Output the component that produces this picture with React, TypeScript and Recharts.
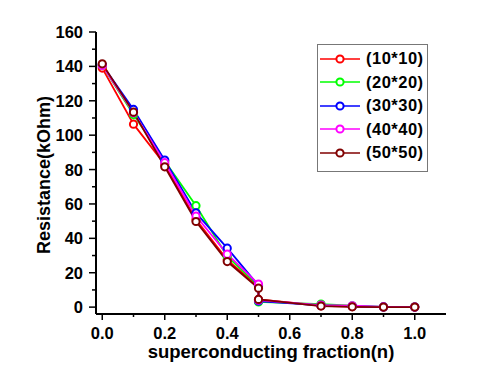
import React from "react"
import { LineChart, Line, XAxis, YAxis, Legend } from "recharts"

// superconducting fraction values (0.5 appears twice: the curves drop at that point)
const fractions = [0, 0.1, 0.2, 0.3, 0.4, 0.5, 0.5, 0.7, 0.8, 0.9, 1.0]

const r10 = [139, 106.4, 83, 51, 27.5, 12, 4.5, 0.8, 0.3, 0, 0]
const r20 = [140.5, 112, 85, 59, 29.5, 12.5, 3, 1.8, 0.8, 0.1, 0]
const r30 = [141, 115, 85.5, 54.8, 34.3, 12.5, 3.5, 1, 0.5, 0.1, 0]
const r40 = [140.5, 113, 84, 53, 30.8, 13.4, 4, 1.2, 0.8, 0.1, 0]
const r50 = [141.5, 113.4, 81.6, 49.8, 26.5, 11, 4.5, 0.6, 0.2, 0, 0]

const seriesNames = ["(10*10)", "(20*20)", "(30*30)", "(40*40)", "(50*50)"]
const seriesValues = [r10, r20, r30, r40, r50]
const colors = ["#ff0000", "#00ff00", "#0000ff", "#ff00ff", "#800000"]

const xMajor = [0, 0.2, 0.4, 0.6, 0.8, 1.0]
const xMinor = [0.1, 0.3, 0.5, 0.7, 0.9]
const yMajor = [0, 20, 40, 60, 80, 100, 120, 140, 160]
const yMinor = [10, 30, 50, 70, 90, 110, 130, 150]

const data = fractions.map((f, i) => {
  const row: any = { n: f }
  seriesNames.forEach((name, s) => {
    row[name] = seriesValues[s][i]
  })
  return row
})

const font = "'Liberation Sans', Arial, Helvetica, sans-serif"

function XTick(props: any) {
  const { x, y, payload } = props
  const major = xMajor.includes(payload.value)
  return (
    <g>
      <line x1={x} y1={y} x2={x} y2={y + (major ? 6 : 3)} stroke="#000" strokeWidth={1.5} />
      {major && (
        <text x={x} y={y + 25} textAnchor="middle" fontSize={16.5} fontWeight="bold" fontFamily={font} fill="#000">
          {payload.value.toFixed(1)}
        </text>
      )}
    </g>
  )
}

function YTick(props: any) {
  const { x, y, payload } = props
  const major = yMajor.includes(payload.value)
  return (
    <g>
      <line x1={x - (major ? 7 : 4)} y1={y} x2={x} y2={y} stroke="#000" strokeWidth={1.5} />
      {major && (
        <text x={x - 13} y={y + 6} textAnchor="end" fontSize={16.5} fontWeight="bold" fontFamily={font} fill="#000">
          {payload.value}
        </text>
      )}
    </g>
  )
}

function LegendBox() {
  return (
    <div
      style={{
        border: "1px solid #777",
        background: "#fff",
        width: 111,
        height: 128,
        boxSizing: "border-box",
        paddingTop: 2,
      }}
    >
      {seriesNames.map((name, i) => (
        <div key={name} style={{ display: "flex", alignItems: "center", height: 23.5 }}>
          <svg width={44} height={12} style={{ marginLeft: 2 }}>
            <line x1={0} y1={6} x2={40} y2={6} stroke={colors[i]} strokeWidth={1.5} />
            <circle cx={20} cy={6} r={3.6} stroke={colors[i]} strokeWidth={2} fill="#fff" />
          </svg>
          <span
            style={{
              fontFamily: font,
              fontWeight: "bold",
              fontSize: 16.5,
              letterSpacing: 0.5,
              color: "#000",
              marginLeft: 2,
              whiteSpace: "nowrap",
            }}
          >
            {name}
          </span>
        </div>
      ))}
    </div>
  )
}

export default function App() {
  return (
    <div style={{ position: "absolute", left: 0, top: 0, width: 500, height: 375, background: "#fff" }}>
      <LineChart width={500} height={375} data={data} margin={{ top: 32, right: 54, bottom: 0, left: 0 }}>
        <XAxis
          dataKey="n"
          type="number"
          domain={[-0.02, 1.1]}
          ticks={[...xMajor, ...xMinor].sort((a, b) => a - b)}
          interval={0}
          tick={<XTick />}
          tickLine={false}
          tickSize={0}
          tickMargin={0}
          height={61}
          axisLine={{ stroke: "#000", strokeWidth: 2 }}
          allowDataOverflow
        />
        <XAxis xAxisId="top" orientation="top" type="number" domain={[-0.02, 1.1]} tick={false} height={0} axisLine={{ stroke: "#000", strokeWidth: 2 }} />
        <YAxis
          type="number"
          domain={[-4, 160]}
          ticks={[...yMajor, ...yMinor].sort((a, b) => a - b)}
          interval={0}
          tick={<YTick />}
          tickLine={false}
          tickSize={0}
          tickMargin={0}
          width={96}
          axisLine={{ stroke: "#000", strokeWidth: 2 }}
          allowDataOverflow
        />
        <YAxis yAxisId="right" orientation="right" type="number" domain={[-4, 160]} tick={false} width={0} axisLine={{ stroke: "#000", strokeWidth: 2 }} />
        <Legend
          layout="vertical"
          align="center"
          verticalAlign="middle"
          content={<LegendBox />}
          wrapperStyle={{ position: "absolute", left: 317, top: 44, width: "auto" }}
        />
        {seriesNames.map((name, i) => (
          <Line
            key={name}
            dataKey={name}
            stroke={colors[i]}
            strokeWidth={1.8}
            dot={{ r: 3.6, stroke: colors[i], strokeWidth: 2, fill: "#fff" }}
            isAnimationActive={false}
          />
        ))}
        <text x={271} y={358} textAnchor="middle" fontSize={18.5} fontWeight="bold" fontFamily={font} fill="#000">
          superconducting fraction(n)
        </text>
        <text
          x={50}
          y={175}
          transform="rotate(-90 50 175)"
          textAnchor="middle"
          fontSize={18}
          fontWeight="bold"
          fontFamily={font}
          fill="#000"
        >
          Resistance(kOhm)
        </text>
      </LineChart>
    </div>
  )
}
